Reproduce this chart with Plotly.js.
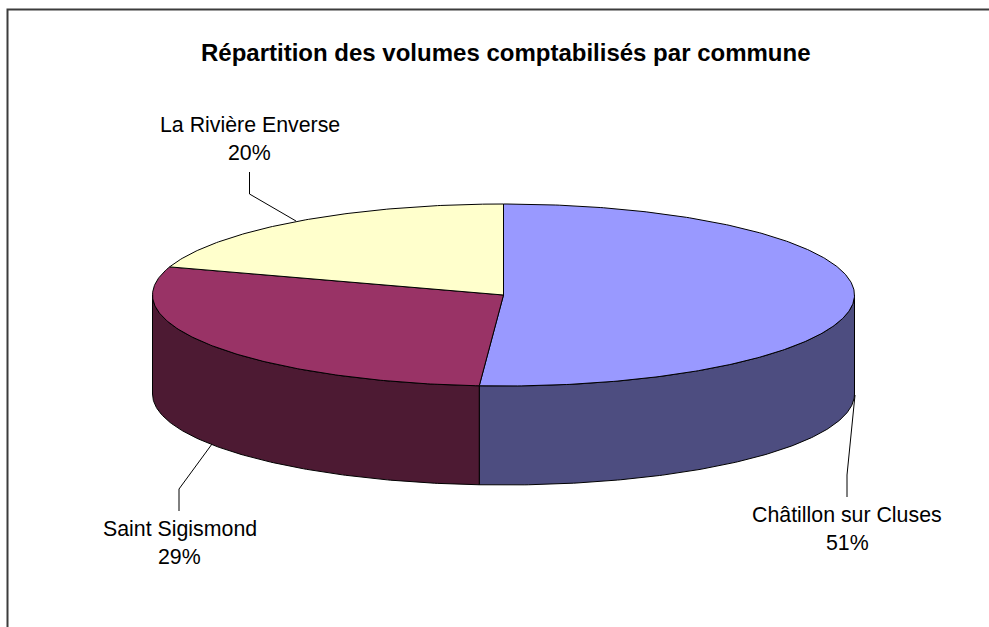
<!DOCTYPE html>
<html lang="fr">
<head>
<meta charset="utf-8">
<script src="https://cdn.plot.ly/plotly-3.0.1.min.js"></script>
<style>html,body{margin:0;padding:0;background:#fff}#chart{width:989px;height:627px}</style>
</head>
<body>
<div id="chart"></div>
<script>
const categories = ["Châtillon sur Cluses", "Saint Sigismond", "La Rivière Enverse"];
const values = [51.1, 28.9, 20];
const topColors = ["#9999FF", "#993366", "#FFFFCC"];
const sideColors = ["#4D4D80", "#4D1A33", "#80801A"];
const chartTitle = "Répartition des volumes comptabilisés par commune";

// Projection of the tilted pie, in the pixel-like units of the hidden axes
const cx = 503.5, cy = 295, rx = 351, ry = 91, depth = 99;
const total = values.reduce((a, b) => a + b, 0);

function px(a) { return cx + rx * Math.sin(a); }
function py(a, drop) { return cy - ry * Math.cos(a) + (drop || 0); }
function arc(a0, a1, drop) {
  const n = Math.max(2, Math.ceil(Math.abs(a1 - a0) / 0.01));
  const xs = [], ys = [];
  for (let i = 0; i <= n; i++) {
    const a = a0 + (a1 - a0) * i / n;
    xs.push(px(a)); ys.push(py(a, drop));
  }
  return [xs, ys];
}

const traces = [];
let cum = 0;
const wedges = values.map(v => {
  const a0 = cum / total * 2 * Math.PI;
  cum += v;
  return [a0, cum / total * 2 * Math.PI];
});

// Side walls: only the front half of the rim (90° to 270°) is visible
wedges.forEach(([a0, a1], i) => {
  const s = Math.max(a0, Math.PI / 2), e = Math.min(a1, 3 * Math.PI / 2);
  if (e <= s) return;
  const [tx, ty] = arc(s, e, 0);
  const [bx, by] = arc(e, s, depth);
  traces.push({
    type: "scatter", mode: "lines", name: categories[i] + " side",
    x: tx.concat(bx, [tx[0]]), y: ty.concat(by, [ty[0]]),
    fill: "toself", fillcolor: sideColors[i],
    line: { color: "#000", width: 1 }, hoverinfo: "skip"
  });
});

// Top faces
wedges.forEach(([a0, a1], i) => {
  const [ax, ay] = arc(a0, a1, 0);
  traces.push({
    type: "scatter", mode: "lines", name: categories[i],
    x: [cx].concat(ax, [cx]), y: [cy].concat(ay, [cy]),
    fill: "toself", fillcolor: topColors[i],
    line: { color: "#000", width: 1 }, hoverinfo: "skip"
  });
});

const font = "Liberation Sans, Arial, sans-serif";
const labelAnchors = [
  { x: 847, y: 515, y2: 543, path: "M847,497 L847,475 L855,395" },
  { x: 179.5, y: 529, y2: 557, path: "M179,511 L179,489 L212,444" },
  { x: 249.5, y: 125, y2: 153, path: "M249.5,172 L249.5,194 L296,221" }
];
const annotations = [];
const shapes = [{
  type: "rect", xref: "x", yref: "y", x0: 7.5, y0: 9.5, x1: 1005, y1: 650,
  line: { color: "#3c3c3c", width: 2 }, fillcolor: "rgba(0,0,0,0)", layer: "below"
}];
categories.forEach((c, i) => {
  const p = labelAnchors[i];
  const note = (text, y) => annotations.push({
    text, x: p.x, y, xref: "x", yref: "y", showarrow: false,
    xanchor: "center", yanchor: "middle", font: { family: font, size: 21.33, color: "#000" }
  });
  note(c, p.y);
  note(Math.round(values[i] / total * 100) + "%", p.y2);
  shapes.push({ type: "path", xref: "x", yref: "y", path: p.path, line: { color: "#000", width: 1 } });
});
annotations.push({
  text: "<b>" + chartTitle + "</b>", x: 506, y: 52, xref: "x", yref: "y", showarrow: false,
  xanchor: "center", yanchor: "middle", font: { family: font, size: 24, color: "#000" }
});

Plotly.newPlot("chart", traces, {
  width: 989, height: 627,
  margin: { l: 0, r: 0, t: 0, b: 0 },
  paper_bgcolor: "#fff", plot_bgcolor: "#fff",
  showlegend: false,
  xaxis: { range: [0, 989], visible: false, fixedrange: true },
  yaxis: { range: [627, 0], visible: false, fixedrange: true },
  shapes, annotations
}, { displayModeBar: false, staticPlot: true });
</script>
</body>
</html>
